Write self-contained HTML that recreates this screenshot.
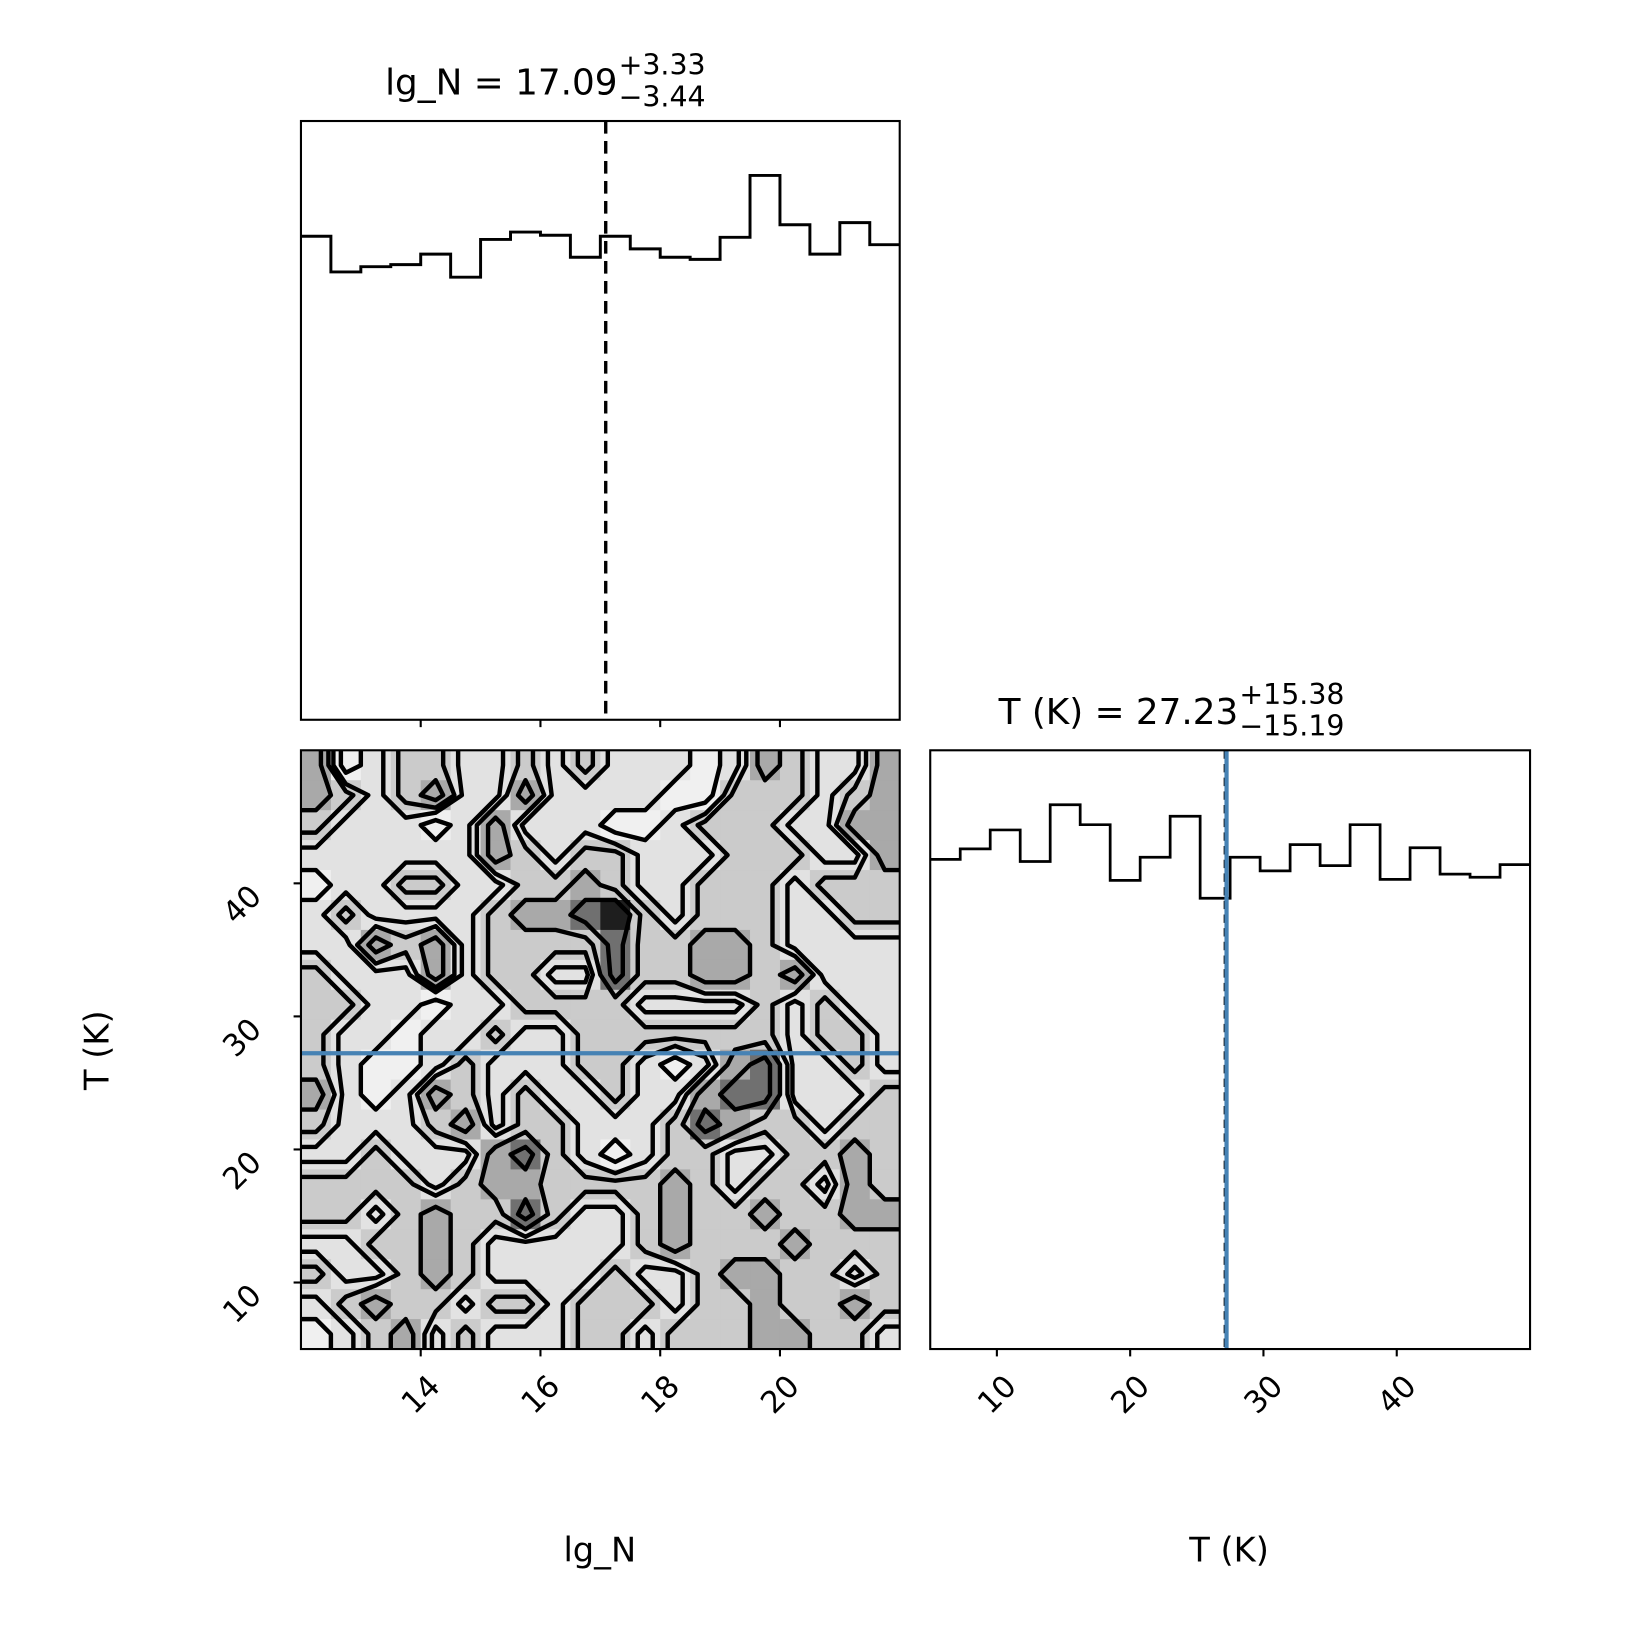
<!DOCTYPE html>
<html><head><meta charset="utf-8"><style>
html,body{margin:0;padding:0;background:#fff}
svg{display:block}
text{font-family:"DejaVu Sans","Liberation Sans",sans-serif;fill:#000}
</style></head><body>
<svg id="fig" width="1650" height="1650" viewBox="0 0 1568 1568" xmlns="http://www.w3.org/2000/svg">
<defs><clipPath id="clip2d"><rect x="286" y="713" width="569" height="569"/></clipPath></defs>
<g id="g-top"></g>
<g id="g-2d" clip-path="url(#clip2d)"></g>
<g id="g-right"></g>
<g id="g-ax"></g>
<text id="t1" x="366" y="90" font-size="34">lg_N = 17.09</text>
<text id="t1p" x="540" y="71" font-size="27">+3.33</text>
<text id="t1m" x="540" y="101" font-size="27">−3.44</text>
<text id="t2" x="949" y="688" font-size="34">T (K) = 27.23</text>
<text id="t2p" x="1180" y="669" font-size="27">+15.38</text>
<text id="t2m" x="1180" y="699" font-size="27">−15.19</text>
<text x="570" y="1484" font-size="32" text-anchor="middle">lg_N</text>
<text x="1168" y="1484" font-size="32" text-anchor="middle">T (K)</text>
<text x="0" y="0" font-size="32" text-anchor="middle" transform="translate(103,998) rotate(-90)">T (K)</text>
</svg>
<script>
const lgNBinValues = [461,427,432,434,444,422,458,465,462,441,461,449,441,439,460,519,472,444,474,453];
const TBinValues = [466,476,494,464,518,499,446,468,507,429,468,455,480,460,499,447,477,452,449,461];
const lgNRange = [12.0, 22.0];
const TRange = [5.0, 50.0];
const lgNTicks = [14,16,18,20];
const TTicks = [10,20,30,40];
const lgNMedian = 17.09;
const TMedian = 27.23;
const densityRows = [
[3,0,1,2,2,1,1,2,1,2,1,1,1,0,1,3,2,1,1,3],
[3,2,1,2,3,1,1,3,1,1,1,1,0,0,2,2,2,1,2,3],
[2,1,1,1,0,1,3,1,1,1,0,0,1,2,2,2,1,1,3,3],
[1,1,1,1,1,1,3,2,1,2,2,1,1,1,2,2,2,1,1,3],
[0,1,1,2,2,1,1,2,2,3,2,1,1,2,2,2,1,2,2,2],
[1,2,1,1,1,1,2,3,3,4,5,2,1,2,2,2,1,1,2,2],
[1,1,3,2,3,1,2,2,2,2,4,2,2,3,3,2,1,1,1,1],
[2,1,1,1,3,1,2,2,1,1,4,2,2,3,3,2,3,1,1,1],
[2,2,1,1,0,1,1,2,2,2,2,1,1,1,1,2,1,2,1,1],
[2,1,1,0,1,1,2,1,1,2,2,2,2,2,2,2,1,2,2,1],
[2,1,0,0,1,2,1,1,1,2,2,1,0,1,3,4,1,1,2,1],
[3,1,0,1,3,2,1,2,1,1,2,1,1,3,4,4,1,1,1,2],
[2,1,1,1,2,3,1,2,2,1,1,1,2,4,3,2,2,1,2,2],
[1,1,2,1,1,1,3,4,2,1,0,1,2,2,1,1,2,2,3,2],
[2,2,2,2,1,2,3,3,2,2,2,2,3,2,1,2,2,1,3,2],
[2,2,1,2,3,2,2,4,2,1,1,2,3,2,2,3,2,2,3,3],
[1,1,2,2,3,2,1,1,1,1,1,2,3,2,2,2,3,2,2,2],
[2,1,1,2,3,2,1,1,1,1,2,1,1,2,3,3,2,2,1,2],
[1,2,3,2,2,1,2,2,1,2,2,2,1,2,2,3,2,2,3,2],
[0,1,2,3,1,2,1,1,1,2,2,1,2,2,2,3,3,2,2,1]
];
const contourLevels = [0.5, 1.25, 1.75, 2.5, 3.5];
const grayShades = ['#f0f0f0','#e2e2e2','#cbcbcb','#a9a9a9','#707070','#1e1e1e'];

const NS='http://www.w3.org/2000/svg';
function mk(tag, attrs, parent){const e=document.createElementNS(NS,tag);for(const k in attrs)e.setAttribute(k,attrs[k]);parent.appendChild(e);return e;}
const L=286,R=855,TT=115,TB=684,BT=713,BB=1282,RL=884,RR=1454;
const xN=v=>L+(v-lgNRange[0])/(lgNRange[1]-lgNRange[0])*(R-L);
const yT=v=>BB-(v-TRange[0])/(TRange[1]-TRange[0])*(BB-BT);
const xT=v=>RL+(v-TRange[0])/(TRange[1]-TRange[0])*(RR-RL);

const gTop=document.getElementById('g-top');
{
 const mx=Math.max(...lgNBinValues)*1.1, n=lgNBinValues.length, bw=(lgNRange[1]-lgNRange[0])/n;
 const yv=v=>TB-v/mx*(TB-TT);
 let d='';
 lgNBinValues.forEach((v,i)=>{const x0=xN(lgNRange[0]+i*bw),x1=xN(lgNRange[0]+(i+1)*bw);d+=(i?'L':'M')+x0+','+yv(v)+'L'+x1+','+yv(v);});
 const p=mk('path',{d:d,fill:'none',stroke:'#000','stroke-width':2.8},gTop);
 
 
 const m=mk('line',{x1:xN(lgNMedian),x2:xN(lgNMedian),y1:TT,y2:TB,stroke:'#000','stroke-width':3.2,'stroke-dasharray':'12,7'},gTop);
 
 
}
const gR=document.getElementById('g-right');
{
 const mx=Math.max(...TBinValues)*1.1, n=TBinValues.length, bw=(TRange[1]-TRange[0])/n;
 const yv=v=>BB-v/mx*(BB-BT);
 let d='';
 TBinValues.forEach((v,i)=>{const x0=xT(TRange[0]+i*bw),x1=xT(TRange[0]+(i+1)*bw);d+=(i?'L':'M')+x0+','+yv(v)+'L'+x1+','+yv(v);});
 const p=mk('path',{d:d,fill:'none',stroke:'#000','stroke-width':2.6},gR);
 
 
 const m=mk('line',{x1:xT(TMedian)-2,x2:xT(TMedian)-2,y1:BT,y2:BB,stroke:'#000','stroke-width':1.5,'stroke-dasharray':'8,5'},gR);
 
 
 const t=mk('line',{x1:xT(TMedian),x2:xT(TMedian),y1:BT,y2:BB,stroke:'#4682b4','stroke-width':4},gR);
 
 
}
const g2=document.getElementById('g-2d');
{
 const nr=densityRows.length, nc=densityRows[0].length;
 const cw=(R-L)/nc, ch=(BB-BT)/nr;
 for(let r=0;r<nr;r++)for(let c=0;c<nc;c++){
  const v=densityRows[r][c];
  const cell=mk('rect',{x:L+c*cw,y:BT+r*ch,width:cw+0.6,height:ch+0.6,fill:grayShades[v]},g2);
  
  
 }
 const F=(r,c)=>densityRows[Math.min(nr-1,Math.max(0,r))][Math.min(nc-1,Math.max(0,c))];
 const cx=c=>L+(c+0.5)*cw, cy=r=>BT+(r+0.5)*ch;
 contourLevels.forEach(lv=>{
  let d='';
  for(let r=-1;r<nr;r++)for(let c=-1;c<nc;c++){
   const a=F(r,c),b=F(r,c+1),cc=F(r+1,c+1),dd=F(r+1,c);
   const pts=[];
   const x0=cx(c),x1=cx(c+1),y0=cy(r),y1=cy(r+1);
   if((a-lv)*(b-lv)<0){const t=(lv-a)/(b-a);pts.push([x0+t*(x1-x0),y0]);}
   if((b-lv)*(cc-lv)<0){const t=(lv-b)/(cc-b);pts.push([x1,y0+t*(y1-y0)]);}
   if((dd-lv)*(cc-lv)<0){const t=(lv-dd)/(cc-dd);pts.push([x0+t*(x1-x0),y1]);}
   if((a-lv)*(dd-lv)<0){const t=(lv-a)/(dd-a);pts.push([x0,y0+t*(y1-y0)]);}
   if(pts.length===2)d+='M'+pts[0]+'L'+pts[1];
   else if(pts.length===4){const ctr=(a+b+cc+dd)/4;
    if((ctr>lv)===(a>lv)){d+='M'+pts[0]+'L'+pts[1]+'M'+pts[2]+'L'+pts[3];}
    else{d+='M'+pts[0]+'L'+pts[3]+'M'+pts[1]+'L'+pts[2];}}
  }
  const p=mk('path',{d:d,fill:'none',stroke:'#000','stroke-width':4.2,'stroke-linecap':'round','stroke-linejoin':'round'},g2);
  
  
 });
 const h=mk('line',{x1:L,x2:R,y1:yT(TMedian),y2:yT(TMedian),stroke:'#4682b4','stroke-width':4},g2);
 
 
}
const ga=document.getElementById('g-ax');
function frame(x,y,w,h,name){const f=mk('rect',{x:x,y:y,width:w,height:h,fill:'none',stroke:'#000','stroke-width':2},ga);}
frame(L,TT,R-L,TB-TT,'lgN-hist-frame');
frame(L,BT,R-L,BB-BT,'density-frame');
frame(RL,BT,RR-RL,BB-BT,'T-hist-frame');
lgNTicks.forEach(v=>{
 mk('line',{x1:xN(v),x2:xN(v),y1:TB,y2:TB+7,stroke:'#000','stroke-width':2},ga);
 mk('line',{x1:xN(v),x2:xN(v),y1:BB,y2:BB+7,stroke:'#000','stroke-width':2},ga);
 const t=mk('text',{x:0,y:0,'font-size':29,'text-anchor':'end',transform:`translate(${xN(v)+20},${BB+37}) rotate(-45)`},ga);
 t.textContent=v;
 
 
});
TTicks.forEach(v=>{
 mk('line',{x1:L-7,x2:L,y1:yT(v),y2:yT(v),stroke:'#000','stroke-width':2},ga);
 const t=mk('text',{x:0,y:0,'font-size':29,'text-anchor':'end',transform:`translate(${L-36},${yT(v)+14}) rotate(-45)`},ga);
 t.textContent=v;
 
 
 mk('line',{x1:xT(v),x2:xT(v),y1:BB,y2:BB+7,stroke:'#000','stroke-width':2},ga);
 const t2=mk('text',{x:0,y:0,'font-size':29,'text-anchor':'end',transform:`translate(${xT(v)+20},${BB+37}) rotate(-45)`},ga);
 t2.textContent=v;
 
 
});
[['t1','t1p','t1m'],['t2','t2p','t2m']].forEach(([a,b,c])=>{
 const m=document.getElementById(a);
 const x=parseFloat(m.getAttribute('x'))+m.getComputedTextLength()+1;
 document.getElementById(b).setAttribute('x',x);
 document.getElementById(c).setAttribute('x',x);
});
</script>
</body></html>
